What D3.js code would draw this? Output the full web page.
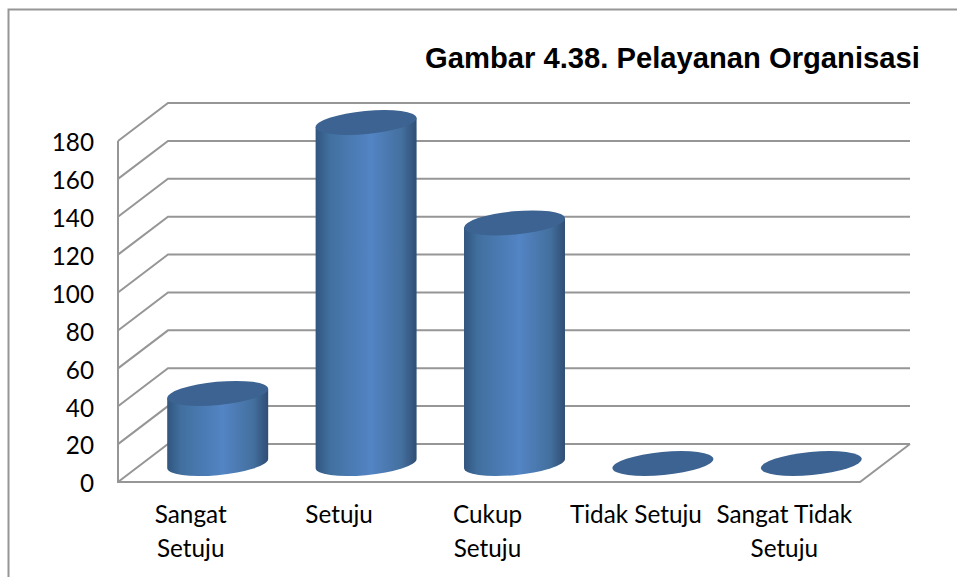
<html>

<head>
    <script src="https://d3js.org/d3.v7.min.js"></script>
    <style>
        body {
            margin: 0;
            background: #fff;
        }

        svg {
            display: block;
        }

        .wall {
            stroke: #969696;
            stroke-width: 2;
            fill: none;
        }

        .axis text,
        .catLabel {
            font-family: Lato, "Open Sans", sans-serif;
            font-size: 24.3px;
            fill: #000;
        }
    </style>
</head>

<body>
    <svg height="577" width="957" id="chartSvg"></svg>
    <script>
        const titleText = "Gambar 4.38. Pelayanan Organisasi";
        const categories = ["Sangat Setuju", "Setuju", "Cukup Setuju", "Tidak Setuju", "Sangat Tidak Setuju"];
        const categoryLines = [["Sangat", "Setuju"], ["Setuju"], ["Cukup", "Setuju"], ["Tidak Setuju"], ["Sangat Tidak", "Setuju"]];
        const values = [37, 180, 127, 0, 0];
        const yTicks = [0, 20, 40, 60, 80, 100, 120, 140, 160, 180];

        const svg = d3.select("#chartSvg");

        // front plane of the fake 3d box
        const plotLeft = 118, plotRight = 860, plotBottom = 482, plotTop = 141;
        const depthX = 50, depthY = -38;

        const xScale = d3.scaleBand().domain(categories).range([plotLeft, plotRight]);
        const yScale = d3.scaleLinear().domain([0, 180]).range([plotBottom, plotTop]);

        // cylinder shape
        const rx = 50.7, ry = 11.6, tilt = -5.4;
        const tiltRad = tilt * Math.PI / 180;
        const halfW = Math.sqrt(rx * rx * Math.cos(tiltRad) ** 2 + ry * ry * Math.sin(tiltRad) ** 2);
        const edgeDy = (rx * rx - ry * ry) * Math.sin(tiltRad) * Math.cos(tiltRad) / halfW;
        const centerDx = depthX / 2 + 0.5;
        const centerDy = depthY / 2 + 0.5;

        const defs = svg.append("defs");
        const grad = defs.append("linearGradient").attr("id", "barFill")
            .attr("x1", "0%").attr("x2", "100%").attr("y1", "0%").attr("y2", "0%");
        grad.append("stop").attr("offset", "0%").attr("stop-color", "#31557f");
        grad.append("stop").attr("offset", "14%").attr("stop-color", "#41709f");
        grad.append("stop").attr("offset", "55%").attr("stop-color", "#5384c4");
        grad.append("stop").attr("offset", "85%").attr("stop-color", "#44709f");
        grad.append("stop").attr("offset", "100%").attr("stop-color", "#2f4e74");

        // page frame
        svg.append("path").attr("class", "wall")
            .attr("d", "M8.5,577V9.5H957");

        // walls and floor
        svg.selectAll(".back").data(yTicks).join("path")
            .attr("class", "wall back")
            .attr("d", d => `M${plotLeft},${yScale(d)}L${plotLeft + depthX},${yScale(d) + depthY}H${plotRight + depthX}`);

        svg.append("path").attr("class", "wall")
            .attr("d", `M${plotLeft},${plotTop}V${plotBottom}H${plotRight}L${plotRight + depthX},${plotBottom + depthY}`);

        // axis labels
        const leftAxis = d3.axisLeft(yScale).tickValues(yTicks).tickSize(0).tickPadding(24);
        const axisG = svg.append("g")
            .attr("class", "axis")
            .attr("transform", `translate(${plotLeft},2)`)
            .call(leftAxis);
        axisG.select(".domain").remove();

        // cylinders
        const bars = svg.selectAll(".bar").data(categories).join("g").attr("class", "bar");

        bars.each(function (c, i) {
            const g = d3.select(this);
            const cx = xScale(c) + xScale.bandwidth() / 2 + centerDx;
            const baseY = yScale(0) + centerDy;
            const topY = yScale(values[i]) + centerDy;

            if (values[i] > 0) {
                const a = `${rx} ${ry} ${tilt}`;
                g.append("path")
                    .attr("fill", "url(#barFill)")
                    .attr("d", `M${cx - halfW},${baseY - edgeDy}`
                        + `L${cx - halfW},${topY - edgeDy}`
                        + `L${cx + halfW},${topY + edgeDy}`
                        + `L${cx + halfW},${baseY + edgeDy}`
                        + `A${a} 0 1 ${cx - halfW},${baseY - edgeDy}Z`);
            }

            g.append("ellipse")
                .attr("cx", cx).attr("cy", topY)
                .attr("rx", rx).attr("ry", ry)
                .attr("transform", `rotate(${tilt} ${cx} ${topY})`)
                .attr("fill", "#3d6392");
        });

        // category labels
        svg.selectAll(".catLabel").data(categories).join("text")
            .attr("class", "catLabel")
            .attr("text-anchor", "middle")
            .attr("y", 523)
            .each(function (d, i) {
                d3.select(this).selectAll("tspan").data(categoryLines[i]).join("tspan")
                    .attr("x", xScale(d) + xScale.bandwidth() / 2 - 1.5)
                    .attr("dy", (l, j) => j == 0 ? 0 : 34)
                    .text(l => l);
            });

        svg.append("text")
            .attr("x", 425)
            .attr("y", 68)
            .style("font-family", "'Liberation Sans', Arial, sans-serif")
            .style("font-weight", "bold")
            .style("font-size", "29.2px")
            .text(titleText);
    </script>
</body>

</html>
